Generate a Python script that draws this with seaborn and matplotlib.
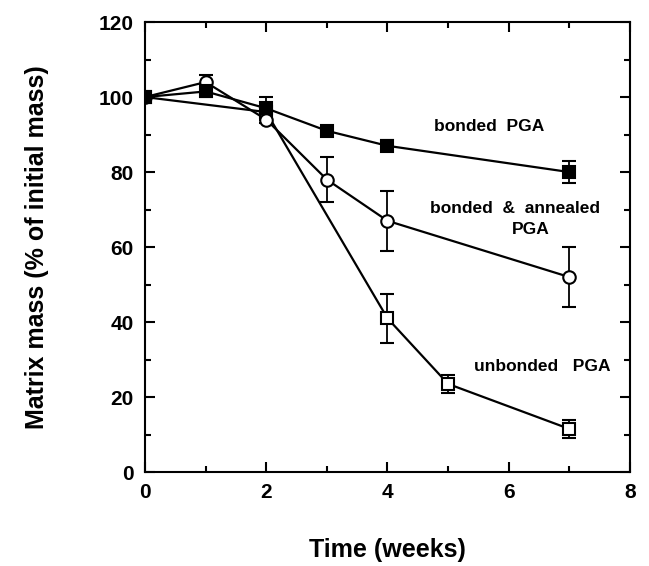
import matplotlib
matplotlib.use("Agg")
import matplotlib.pyplot as plt
import seaborn as sns
import pandas as pd

# data
bonded_weeks = [0, 1, 2, 3, 4, 7]
bonded_mass = [100, 101.5, 97, 91, 87, 80]
bonded_err = [0, 1.5, 3, 1, 1.5, 3]

annealed_weeks = [0, 1, 2, 3, 4, 7]
annealed_mass = [100, 104, 94, 78, 67, 52]
annealed_err = [0, 2, 1, 6, 8, 8]

unbonded_weeks = [0, 2, 4, 5, 7]
unbonded_mass = [100, 96, 41, 23.5, 11.5]
unbonded_err = [0, 0, 6.5, 2.5, 2.5]

sns.set_theme(style="ticks")
plt.rcParams['font.family'] = ['Liberation Sans', 'DejaVu Sans']
plt.rcParams['font.weight'] = 'bold'
for k in ['text.color', 'axes.labelcolor', 'xtick.color', 'ytick.color']:
    plt.rcParams[k] = 'black'

fig = plt.figure(figsize=(6.49, 5.66), dpi=100)
ax = fig.add_axes([0.2234, 0.166, 0.7473, 0.795])

series = [
    (unbonded_weeks, unbonded_mass, unbonded_err, 's', 'white'),
    (annealed_weeks, annealed_mass, annealed_err, 'o', 'white'),
    (bonded_weeks, bonded_mass, bonded_err, 's', 'black'),
]
for w, m, e, mk, fc in series:
    df = pd.DataFrame({'week': w, 'mass': m})
    ax.errorbar(w, m, yerr=e, fmt='none', ecolor='black', elinewidth=1.3,
                capsize=5, capthick=1.5, zorder=2)
    sns.lineplot(data=df, x='week', y='mass', ax=ax, color='black', lw=1.6,
                 marker=mk, markersize=9, markerfacecolor=fc,
                 markeredgecolor='black', markeredgewidth=1.5, zorder=3)

ax.text(4.77, 91, 'bonded  PGA', fontsize=12.5, fontweight='bold')
ax.text(4.7, 69, 'bonded  &  annealed', fontsize=12.5, fontweight='bold')
ax.text(6.05, 63.5, 'PGA', fontsize=12.5, fontweight='bold')
ax.text(5.42, 27, 'unbonded   PGA', fontsize=12.5, fontweight='bold')

ax.set_xlim(0, 8)
ax.set_ylim(0, 120)
ax.set_xticks([0, 2, 4, 6, 8])
ax.set_yticks(range(0, 121, 20))
ax.set_xticks(range(0, 9), minor=True)
ax.set_yticks(range(0, 121, 10), minor=True)
ax.tick_params(which='both', direction='in', top=True, right=True, width=1.5,
               labelsize=15, pad=8)
ax.tick_params(which='major', length=7)
ax.tick_params(which='minor', length=4)
for lab in ax.get_xticklabels() + ax.get_yticklabels():
    lab.set_fontweight('bold')
for sp in ax.spines.values():
    sp.set_linewidth(1.5)
    sp.set_color('black')

ax.set_xlabel('Time (weeks)', fontsize=18, fontweight='bold', labelpad=26)
ax.set_ylabel('Matrix mass (% of initial mass)', fontsize=18, fontweight='bold', labelpad=36)

fig.savefig('out.png', dpi=100)
